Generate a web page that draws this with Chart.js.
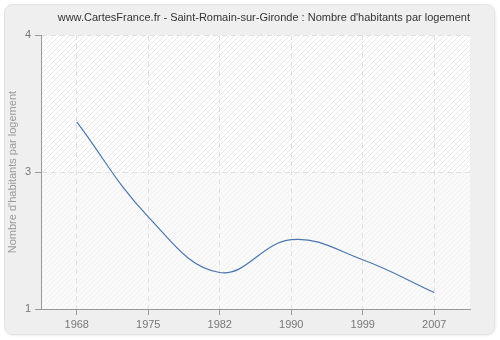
<!DOCTYPE html>
<html>
<head>
<meta charset="utf-8">
<script src="https://cdn.jsdelivr.net/npm/chart.js@4/dist/chart.umd.min.js"></script>
<style>
  html, body { margin: 0; padding: 0; background: #fff; }
  #wrap { width: 500px; height: 340px; }
</style>
</head>
<body>
<div id="wrap"><canvas id="graphique"></canvas></div>
<script>
const annees = ['1968', '1975', '1982', '1990', '1999', '2007'];
const habitantsParLogement = [3.05, 2.01, 1.40, 1.76, 1.54, 1.18];
const ticksY = [1, 2.5, 4];

const titre = "www.CartesFrance.fr - Saint-Romain-sur-Gironde : Nombre d'habitants par logement";
const titreAxeY = "Nombre d'habitants par logement";

function hachures(fond, trait) {
  const c = document.createElement('canvas');
  c.width = 5;
  c.height = 5;
  const g = c.getContext('2d');
  g.fillStyle = fond;
  g.fillRect(0, 0, 5, 5);
  g.strokeStyle = trait;
  g.lineWidth = 1;
  g.beginPath();
  g.moveTo(-1, 6);
  g.lineTo(6, -1);
  g.moveTo(-1, 1);
  g.lineTo(1, -1);
  g.moveTo(4, 6);
  g.lineTo(6, 4);
  g.stroke();
  return g.createPattern(c, 'repeat');
}

const fondPlugin = {
  id: 'fond',
  beforeDraw(chart) {
    const ctx = chart.ctx;
    const { left, right, top, bottom } = chart.chartArea;
    ctx.save();
    // panneau arrondi
    ctx.shadowColor = 'rgba(0,0,0,0.08)';
    ctx.shadowBlur = 3;
    ctx.shadowOffsetX = 1;
    ctx.shadowOffsetY = 1;
    ctx.beginPath();
    ctx.roundRect(4.5, 4.5, 490, 330, 8);
    ctx.fillStyle = '#efefef';
    ctx.fill();
    ctx.shadowColor = 'transparent';
    ctx.strokeStyle = '#e2e2e2';
    ctx.lineWidth = 1;
    ctx.stroke();
    // zone du graphique
    const milieu = chart.scales.y.getPixelForValue(2.5);
    ctx.fillStyle = hachures('#ffffff', '#e9e9e9');
    ctx.fillRect(left, top, right - left, milieu - top);
    ctx.fillStyle = hachures('#fafafa', '#f1f1f1');
    ctx.fillRect(left, milieu, right - left, bottom - milieu);
    ctx.restore();
  }
};

new Chart(document.getElementById('graphique'), {
  type: 'line',
  data: {
    labels: annees,
    datasets: [{
      data: habitantsParLogement,
      borderColor: '#4a76ac',
      borderWidth: 1.2,
      pointRadius: 0,
      fill: false,
      tension: 0.4
    }]
  },
  options: {
    responsive: true,
    maintainAspectRatio: false,
    animation: false,
    layout: { padding: { left: 2, right: 30, top: 0, bottom: 9 } },
    plugins: {
      legend: { display: false },
      tooltip: { enabled: false },
      title: {
        display: true,
        text: titre,
        align: 'end',
        color: '#333333',
        font: { family: 'Liberation Sans', size: 11, weight: 'normal' },
        padding: { top: 11, bottom: 11 }
      }
    },
    scales: {
      x: {
        offset: true,
        grid: {
          color: '#e0e0e0',
          tickColor: '#999999',
          tickLength: 6,
          drawOnChartArea: true
        },
        border: { color: '#999999', dash: [5, 4] },
        ticks: {
          color: '#777777',
          padding: 3,
          maxRotation: 0,
          font: { family: 'Liberation Sans', size: 11 }
        },
        afterFit(scale) { scale.height = 22; }
      },
      y: {
        min: 1,
        max: 4,
        afterBuildTicks(scale) {
          scale.ticks = ticksY.map(v => ({ value: v }));
        },
        grid: {
          color: '#e0e0e0',
          tickColor: '#999999',
          tickLength: 6
        },
        border: { color: '#999999', dash: [5, 4] },
        ticks: {
          color: '#777777',
          padding: 4,
          font: { family: 'Liberation Sans', size: 11 },
          callback: (v) => Math.round(v)
        },
        title: {
          display: true,
          text: titreAxeY,
          color: '#999999',
          font: { family: 'Liberation Sans', size: 11 },
          padding: { top: 4, bottom: 0 }
        },
        afterFit(scale) { scale.width = 39; }
      }
    }
  },
  plugins: [fondPlugin]
});
</script>
</body>
</html>
